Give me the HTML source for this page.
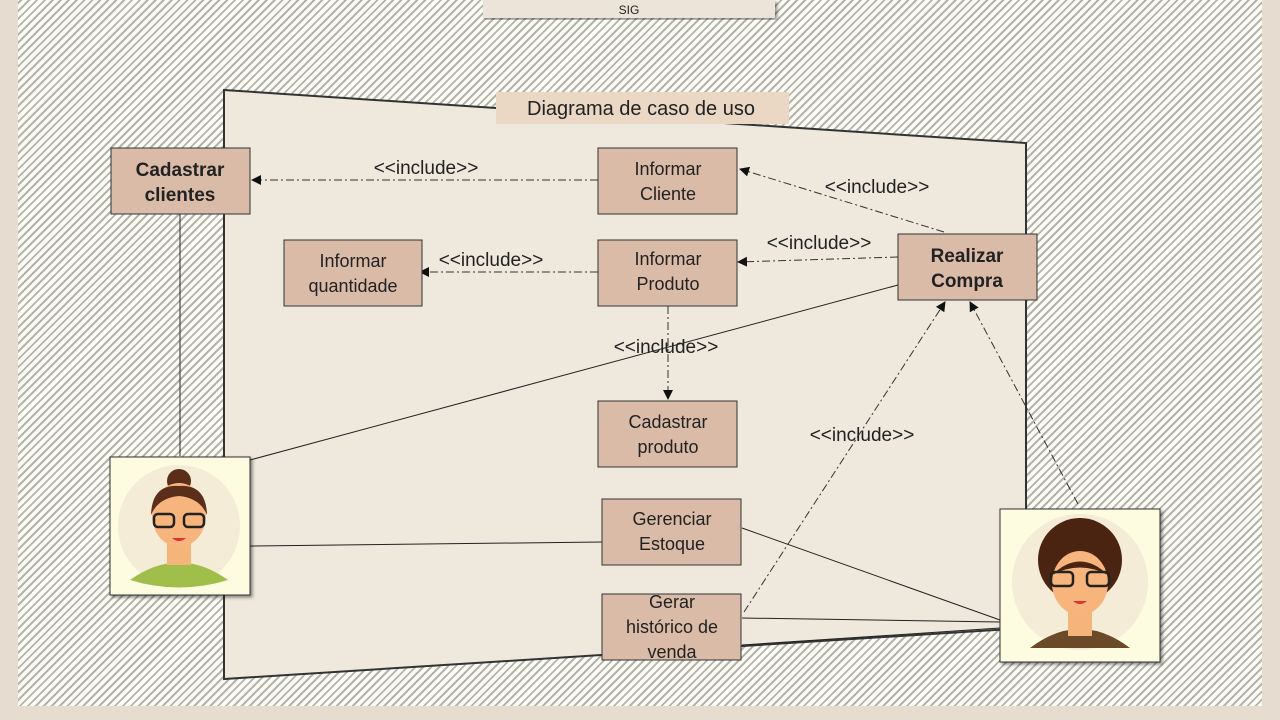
<!DOCTYPE html>
<html><head><meta charset="utf-8"><style>
html,body{margin:0;padding:0;width:1280px;height:720px;overflow:hidden;background:#e6ddd0;}
#bg{position:absolute;left:18px;top:0;width:1244px;height:706px;
background:repeating-linear-gradient(-45deg,#fdfcf6 0px,#fdfcf6 3.6px,#b3b5aa 3.6px,#b3b5aa 5.6px);}
svg{position:absolute;left:0;top:0;}
text{font-family:"Liberation Sans",sans-serif;fill:#222;}
</style></head><body>
<div id="bg"></div>
<svg width="1280" height="720" viewBox="0 0 1280 720">
<defs>
<marker id="ar" markerWidth="10" markerHeight="10" refX="9" refY="5" orient="auto" markerUnits="userSpaceOnUse"><path d="M0,0 L10,5 L0,10 z" fill="#111"/></marker>
<filter id="sh"><feDropShadow dx="2" dy="2" stdDeviation="1.5" flood-opacity="0.45"/></filter>
</defs>
<rect x="483" y="0" width="292" height="18" fill="#ece4d8" filter="url(#sh)"/>
<text x="629" y="14" font-size="12" text-anchor="middle">SIG</text>
<polygon points="224,90 1026,143 1026,628 224,679" fill="#efe8dc" stroke="#333" stroke-width="2"/>
<rect x="496" y="92" width="293" height="32" fill="#ead8c4"/>
<text x="641" y="115" font-size="20" text-anchor="middle">Diagrama de caso de uso</text>
<g stroke="#222" stroke-width="1" fill="none">
<line x1="180" y1="214" x2="180" y2="456"/>
<line x1="250" y1="460" x2="898" y2="285"/>
<line x1="250" y1="546" x2="602" y2="542"/>
<line x1="742" y1="528" x2="1000" y2="620"/>
<line x1="742" y1="618" x2="1000" y2="622"/>
<line x1="742" y1="645" x2="1000" y2="628"/>
</g>
<g stroke="#333" stroke-width="1" fill="none" stroke-dasharray="8,3,2,3">
<line x1="598" y1="180" x2="252" y2="180" marker-end="url(#ar)"/>
<line x1="598" y1="272" x2="420" y2="272" marker-end="url(#ar)"/>
<line x1="944" y1="232" x2="740" y2="169" marker-end="url(#ar)"/>
<line x1="898" y1="257" x2="738" y2="262" marker-end="url(#ar)"/>
<line x1="668" y1="306" x2="668" y2="399" marker-end="url(#ar)"/>
<line x1="744" y1="612" x2="945" y2="302" marker-end="url(#ar)"/>
<line x1="1078" y1="504" x2="970" y2="302" marker-end="url(#ar)"/>
</g>
<g font-size="19" text-anchor="middle">
<text x="426" y="174">&lt;&lt;include&gt;&gt;</text>
<text x="491" y="266">&lt;&lt;include&gt;&gt;</text>
<text x="877" y="193">&lt;&lt;include&gt;&gt;</text>
<text x="819" y="249">&lt;&lt;include&gt;&gt;</text>
<text x="666" y="353">&lt;&lt;include&gt;&gt;</text>
<text x="862" y="441">&lt;&lt;include&gt;&gt;</text>
</g>
<g fill="#d9bba8" stroke="#333" stroke-width="1">
<rect x="111" y="148" width="139" height="66"/>
<rect x="598" y="148" width="139" height="66"/>
<rect x="898" y="234" width="139" height="66"/>
<rect x="284" y="240" width="138" height="66"/>
<rect x="598" y="240" width="139" height="66"/>
<rect x="598" y="401" width="139" height="66"/>
<rect x="602" y="499" width="139" height="66"/>
<rect x="602" y="594" width="139" height="66"/>
</g>
<g font-size="19" text-anchor="middle" font-weight="bold">
<text x="180" y="176">Cadastrar</text><text x="180" y="201">clientes</text>
<text x="967" y="262">Realizar</text><text x="967" y="287">Compra</text>
</g>
<g font-size="18" text-anchor="middle" style="fill:#333">
<text x="668" y="175">Informar</text><text x="668" y="200">Cliente</text>
<text x="353" y="267">Informar</text><text x="353" y="292">quantidade</text>
<text x="668" y="265">Informar</text><text x="668" y="290">Produto</text>
<text x="668" y="428">Cadastrar</text><text x="668" y="453">produto</text>
<text x="672" y="525">Gerenciar</text><text x="672" y="550">Estoque</text>
<text x="672" y="608">Gerar</text><text x="672" y="633">histórico de</text><text x="672" y="658">venda</text>
</g>
<g filter="url(#sh)">
<rect x="110" y="457" width="140" height="138" fill="#fdfbe0" stroke="#333"/>
<rect x="1000" y="509" width="160" height="153" fill="#fdfbe0" stroke="#333"/>
</g>
<circle cx="179" cy="526" r="61" fill="#f4ecd6"/>
<path d="M130,580 Q179,545 228,580 Q179,595 130,580z" fill="#9fbf4a"/>
<rect x="167" y="540" width="24" height="25" fill="#f5b57a"/>
<circle cx="179" cy="481" r="12" fill="#5a2e1a"/>
<ellipse cx="179" cy="515" rx="27" ry="32" fill="#f7b47c"/>
<path d="M151,515 Q152,484 179,486 Q206,484 207,515 Q200,498 179,496 Q158,498 151,515z" fill="#5a2e1a"/>
<g fill="none" stroke="#222" stroke-width="2.5"><rect x="154" y="514" width="20" height="13" rx="4"/><rect x="184" y="514" width="20" height="13" rx="4"/></g>
<path d="M172,538 Q179,544 186,538z" fill="#d33"/>
<circle cx="1080" cy="582" r="68" fill="#f4ecd6"/>
<path d="M1030,648 Q1080,610 1130,648z" fill="#6b4a2a"/>
<rect x="1068" y="606" width="24" height="30" fill="#f5b57a"/>
<circle cx="1080" cy="560" r="42" fill="#4a2410"/>
<ellipse cx="1080" cy="583" rx="28" ry="32" fill="#f7b47c"/>
<path d="M1052,575 Q1080,548 1108,575 Q1080,560 1052,575z" fill="#4a2410"/>
<g fill="none" stroke="#222" stroke-width="2.5"><rect x="1051" y="572" width="22" height="14" rx="4"/><rect x="1087" y="572" width="22" height="14" rx="4"/></g>
<path d="M1073,601 Q1080,607 1087,601z" fill="#d33"/>
</svg>
</body></html>
